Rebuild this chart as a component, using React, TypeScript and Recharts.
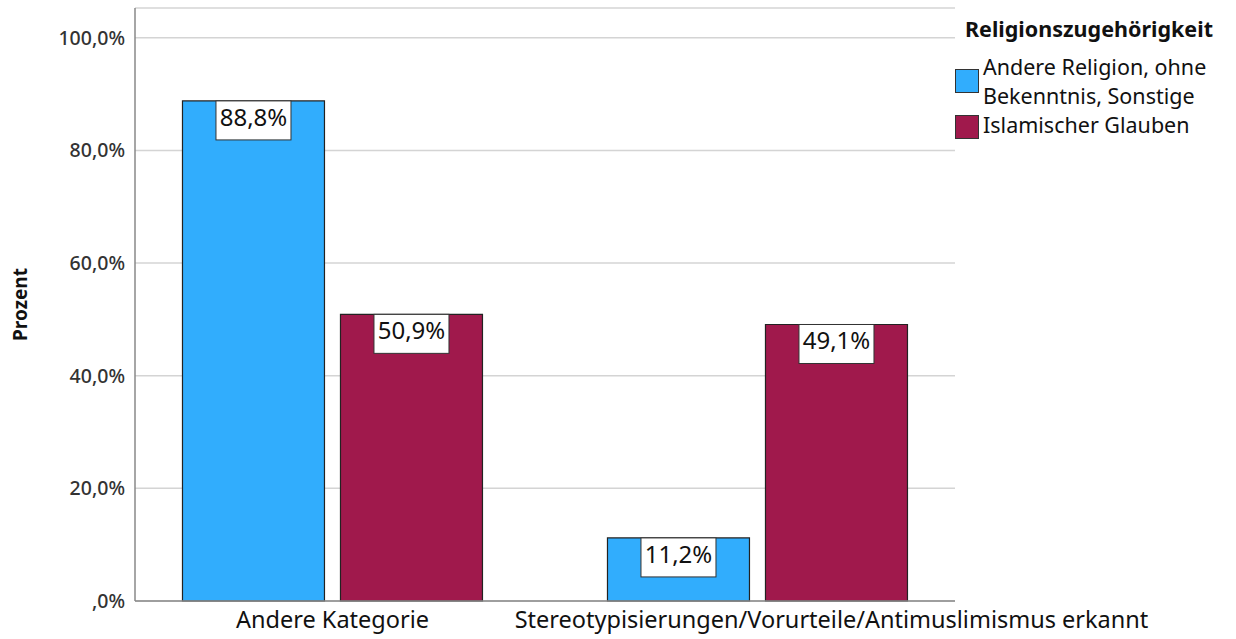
import React from 'react';
import { BarChart, Bar, XAxis, YAxis, CartesianGrid, LabelList } from 'recharts';

// Kategorien der Einschätzung
const categories = ['Andere Kategorie', 'Stereotypisierungen/Vorurteile/Antimuslimismus erkannt'];
// Prozentwerte je Religionszugehörigkeit
const andereReligion = [88.8, 11.2];
const islamischerGlauben = [50.9, 49.1];
const yTicks = [0, 20, 40, 60, 80, 100];

const legendTitle = 'Religionszugehörigkeit';
const seriesNames = ['Andere Religion, ohne Bekenntnis, Sonstige', 'Islamischer Glauben'];
const legendLines = [['Andere Religion, ohne', 'Bekenntnis, Sonstige'], ['Islamischer Glauben']];
const seriesColors = ['#31adfd', '#a0194c'];

const data = categories.map((c, i) => ({
  category: c,
  andere: andereReligion[i],
  islam: islamischerGlauben[i],
}));

const FONT = '"Noto Sans", "Open Sans", sans-serif';

const fmtPct = (v: number) => {
  const s = v.toFixed(1).replace('.', ',');
  return (s.startsWith('0,') ? s.slice(1) : s) + '%';
};

const ValueBox = (props: any) => {
  const { x, y, width, value } = props;
  const cx = x + width / 2;
  const bw = 75;
  return (
    <g>
      <rect x={cx - bw / 2} y={y} width={bw} height={39} fill="#fff" stroke="#333" strokeWidth={1} />
      <text x={cx} y={y + 25} textAnchor="middle" fontFamily={FONT} fontSize={24} fill="#111">
        {fmtPct(value)}
      </text>
    </g>
  );
};

// the long category label sits further right than its bar group
const tickShift = [0, 74];

const XTick = (props: any) => {
  const { x, y, payload, index } = props;
  return (
    <text x={x + (tickShift[index] || 0)} y={y + 19} textAnchor="middle" fontFamily={FONT} fontSize={23.5} fill="#111">
      {payload.value}
    </text>
  );
};

const YTick = (props: any) => {
  const { x, y, payload } = props;
  return (
    <text x={x - 2} y={y + 7} textAnchor="end" fontFamily={FONT} fontSize={19.5} fill="#333" fontWeight={500}>
      {fmtPct(payload.value)}
    </text>
  );
};

const swatch = (color: string, top: number): React.CSSProperties => ({
  position: 'absolute',
  left: 955,
  top,
  width: 24,
  height: 24,
  boxSizing: 'border-box',
  background: color,
  border: '1px solid #333',
});

const lineStyle = (top: number): React.CSSProperties => ({
  position: 'absolute',
  left: 983,
  top,
  fontSize: 21.5,
  lineHeight: '29px',
  height: 29,
  whiteSpace: 'nowrap',
});

const LegendBox = () => (
  <div style={{ position: 'absolute', left: 0, top: 0, fontFamily: FONT, color: '#111' }}>
    <div style={{ position: 'absolute', left: 965, top: 17, fontWeight: 700, fontSize: 21.5, lineHeight: '24px', whiteSpace: 'nowrap' }}>
      {legendTitle}
    </div>
    <div style={swatch(seriesColors[0], 69)} />
    <div style={lineStyle(52)}>{legendLines[0][0]}</div>
    <div style={lineStyle(81)}>{legendLines[0][1]}</div>
    <div style={swatch(seriesColors[1], 115)} />
    <div style={lineStyle(110)}>{legendLines[1][0]}</div>
  </div>
);

export default function App() {
  return (
    <div style={{ position: 'absolute', left: 0, top: 0, width: 1236, height: 639, background: '#fff' }}>
      <BarChart
        width={1236}
        height={639}
        data={data}
        margin={{ top: 8, right: 281, bottom: 0, left: 0 }}
        barCategoryGap="14.7%"
        barGap={16}
      >
        <CartesianGrid vertical={false} stroke="#d4d4d4" strokeWidth={1.5} />
        <XAxis
          dataKey="category"
          tick={<XTick />}
          tickLine={false}
          axisLine={{ stroke: '#888', strokeWidth: 1.5 }}
          height={38}
          interval={0}
          padding={{ left: -15, right: -15 }}
        />
        <YAxis
          type="number"
          domain={[0, 105.3]}
          ticks={yTicks}
          tick={<YTick />}
          tickLine={false}
          axisLine={{ stroke: '#888', strokeWidth: 1.5 }}
          width={135}
          label={{
            value: 'Prozent',
            angle: -90,
            position: 'insideLeft',
            offset: 20,
            style: { fontFamily: FONT, fontWeight: 700, fontSize: 19, fill: '#111', textAnchor: 'middle' },
          }}
        />
        <Bar dataKey="andere" name={seriesNames[0]} fill={seriesColors[0]} stroke="#222" strokeWidth={1.2} isAnimationActive={false}>
          <LabelList dataKey="andere" content={<ValueBox />} />
        </Bar>
        <Bar dataKey="islam" name={seriesNames[1]} fill={seriesColors[1]} stroke="#222" strokeWidth={1.2} isAnimationActive={false}>
          <LabelList dataKey="islam" content={<ValueBox />} />
        </Bar>
      </BarChart>
      <LegendBox />
    </div>
  );
}
